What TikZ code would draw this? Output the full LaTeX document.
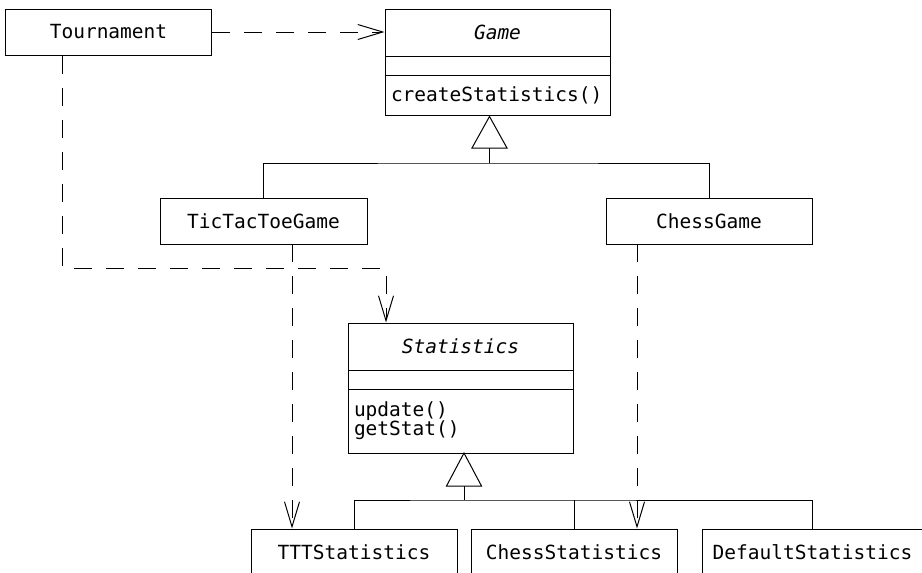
\documentclass[tikz,border=0pt]{standalone}
\usepackage{fontspec}
\setmonofont{DejaVu Sans Mono}
\usetikzlibrary{arrows.meta,calc}
\tikzset{
  cls/.style={draw=black, line width=1pt, rectangle, inner sep=0pt, font=\ttfamily\fontsize{19.5}{19}\selectfont, fill=white},
  meth/.style={cls, align=left, text width=#1, inner xsep=6pt},
  dep/.style={draw=black, line width=1pt, dash pattern=on 18pt off 14pt, -{Straight Barb[length=25pt,width=15pt,line width=1pt]}},
  inh/.style={draw=black, line width=1pt},
  tri/.style={draw=black, line width=1pt, fill=white, line join=miter}
}
\begin{document}
\begin{tikzpicture}[x=1pt,y=-1pt]
\useasboundingbox (0,0) rectangle (922,573);
\fill[white] (0,0) rectangle (922,573);
\clip (0,0) rectangle (922,573);
% classes
\node[cls, minimum width=206pt, minimum height=46pt] (tour) at (108.5,32) {Tournament};
\node[cls, minimum width=225pt, minimum height=47pt] (gname) at (497.5,32.5) {\itshape Game};
\node[cls, minimum width=225pt, minimum height=19pt] (gmid) at (497.5,65.5) {};
\node[meth=213pt, minimum width=225pt, minimum height=40pt] (gmeth) at (497.5,95) {createStatistics()};
\node[cls, minimum width=207pt, minimum height=46pt] (tic) at (263.5,221) {TicTacToeGame};
\node[cls, minimum width=206pt, minimum height=46pt] (chess) at (709,221) {ChessGame};
\node[cls, minimum width=225pt, minimum height=47pt] (sname) at (460.5,346.5) {\itshape Statistics};
\node[cls, minimum width=225pt, minimum height=19pt] (smid) at (460.5,379.5) {};
\node[meth=213pt, minimum width=225pt, minimum height=64pt] (smeth) at (460.5,421) {update()\\getStat()};
\node[cls, minimum width=206pt, minimum height=46pt] (ttt) at (354,552) {TTTStatistics};
\node[cls, minimum width=206pt, minimum height=46pt] (chs) at (574,552) {ChessStatistics};
\node[cls, minimum width=221pt, minimum height=46pt] (def) at (812.5,552) {DefaultStatistics};
% inheritance: games
\coordinate (gapex) at (489.5,116.5);
\coordinate (gbase) at (489.5,148);
\coordinate (ghub) at (489.5,163);
\draw[inh] (gbase) -- (ghub);
\draw[inh] (tic.north) |- (ghub) -| (chess.north);
\draw[tri] (gapex) -- ($(gbase)+(-17.5,0)$) -- ($(gbase)+(17.5,0)$) -- cycle;
% inheritance: statistics
\coordinate (sapex) at (464,453);
\coordinate (sbase) at (464,486);
\coordinate (shub) at (464,500);
\draw[inh] (sbase) -- (shub);
\draw[inh] (ttt.north) |- (shub) -| (def.north);
\draw[inh] (chs.north) -- (chs.north |- shub);
\draw[tri] (sapex) -- ($(sbase)+(-17.5,0)$) -- ($(sbase)+(17.5,0)$) -- cycle;
% dependencies
\draw[dep] (tour.east) -- (tour.east -| gname.west);
\coordinate (tstart) at ($(tour.south west)+(57.5,0)$);
\coordinate (tbend) at (386,268);
\draw[dep] (tstart) |- (tbend) -- (tbend |- sname.north);
\coordinate (ticout) at (292,244);
\draw[dep] (ticout) -- (ticout |- ttt.north);
\coordinate (chessout) at (637,244);
\draw[dep] (chessout) -- (chessout |- chs.north);
\end{tikzpicture}
\end{document}
